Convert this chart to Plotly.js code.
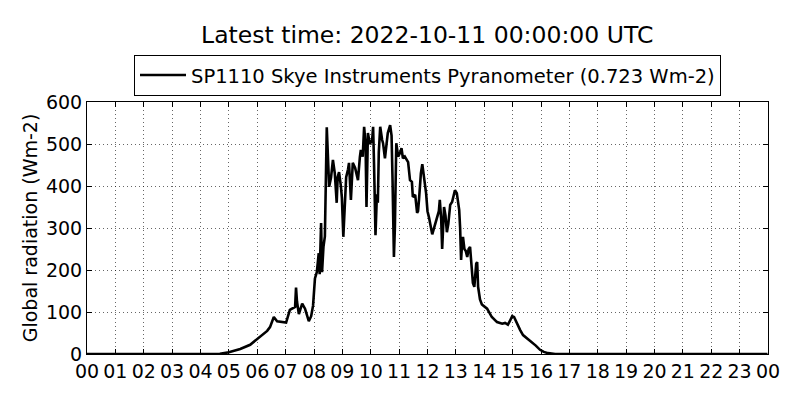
<!DOCTYPE html>
<html>
<head>
<meta charset="utf-8">
<script src="https://cdn.plot.ly/plotly-3.0.1.min.js"></script>
<style>
  html, body { margin: 0; padding: 0; background: #fff; }
  #chart { width: 800px; height: 400px; }
</style>
</head>
<body>
<div id="chart"></div>
<script>
// radiation readings for 2022-10-10, times as HH:MM, values in Wm-2
const times = [
  "00:00", "04:30", "04:41", "05:00", "05:24", "05:45", "06:06", "06:21", "06:27", "06:35",
  "06:42", "06:54", "07:01", "07:09", "07:20", "07:22", "07:24", "07:28", "07:35", "07:41",
  "07:49", "07:54", "07:58", "08:02", "08:06", "08:10", "08:12", "08:15", "08:17", "08:20",
  "08:23", "08:27", "08:30", "08:32", "08:36", "08:40", "08:44", "08:48", "08:50", "08:53",
  "08:57", "08:59", "09:02", "09:06", "09:08", "09:12", "09:14", "09:18", "09:22", "09:27",
  "09:31", "09:33", "09:37", "09:39", "09:43", "09:46", "09:49", "09:51", "09:54", "09:58",
  "10:03", "10:05", "10:07", "10:10", "10:13", "10:15", "10:17", "10:20", "10:24", "10:26",
  "10:30", "10:33", "10:36", "10:41", "10:44", "10:46", "10:49", "10:51", "10:54", "10:58",
  "11:02", "11:05", "11:08", "11:12", "11:19", "11:23", "11:27", "11:29", "11:34", "11:38",
  "11:40", "11:42", "11:46", "11:49", "11:53", "11:57", "12:00", "12:03", "12:10", "12:14",
  "12:20", "12:24", "12:26", "12:29", "12:31", "12:33", "12:35", "12:38", "12:41", "12:44",
  "12:48", "12:52", "12:54", "12:58", "13:02", "13:07", "13:09", "13:11", "13:13", "13:15",
  "13:18", "13:21", "13:24", "13:27", "13:30", "13:32", "13:34", "13:36", "13:39", "13:43",
  "13:45", "13:47", "13:51", "13:55", "14:06", "14:16", "14:27", "14:38", "14:44", "14:50",
  "14:54", "14:59", "15:03", "15:09", "15:16", "15:22", "15:30", "15:41", "15:49", "15:58",
  "16:06", "16:15", "16:30", "23:59"
];
const radiation = [
  0, 0, 0.5, 4, 12, 22, 40, 55, 64, 88,
  78, 76, 75, 105, 112, 158, 125, 95, 120, 108,
  78, 90, 115, 180, 195, 240, 190, 312, 195, 255,
  280, 540, 470, 398, 420, 462, 430, 360, 421, 433,
  398, 371, 279, 380, 421, 440, 455, 367, 455, 443,
  421, 414, 469, 486, 470, 541, 500, 350, 526, 500,
  510, 541, 450, 283, 380, 360, 480, 541, 510, 502,
  466, 500, 526, 545, 520, 420, 231, 300, 502, 470,
  479, 490, 466, 470, 457, 414, 410, 374, 379, 336,
  340, 367, 430, 452, 420, 383, 340, 326, 285, 300,
  326, 340, 367, 320, 250, 300, 350, 330, 290, 310,
  355, 362, 374, 390, 383, 343, 300, 224, 260, 279,
  250, 245, 231, 250, 255, 230, 200, 169, 160, 215,
  219, 160, 130, 118, 108, 88, 76, 72, 74, 70,
  78, 90, 88, 72, 57, 45, 38, 29, 20, 10,
  5, 2, 0, 0
];
const day = "2022-10-10";
const seriesName = "SP1110 Skye Instruments Pyranometer (0.723 Wm-2)";
const chartTitle = "Latest time: 2022-10-11 00:00:00 UTC";

const font = "DejaVu Sans, sans-serif";

const data = [{
    x: times.map(t => `${day} ${t}`),
    y: radiation,
    type: "scatter",
    mode: "lines",
    name: seriesName,
    line: {color: "#000", width: 2.6}
}];

const axisCommon = {
    showline: true,
    linecolor: "#000",
    linewidth: 1,
    mirror: "allticks",
    ticks: "inside",
    ticklen: 5,
    tickcolor: "#000",
    showgrid: true,
    gridcolor: "#000",
    gridwidth: 0.6,
    griddash: "1px,3px",
    zeroline: false,
    tickfont: {family: font, size: 19, color: "#000"}
};

const layout = {
    width: 800,
    height: 400,
    paper_bgcolor: "#fff",
    plot_bgcolor: "#fff",
    font: {family: font, color: "#000"},
    margin: {l: 87, r: 32, t: 102, b: 46, pad: 0},
    title: {
        text: chartTitle,
        font: {family: font, size: 23.5, color: "#000"},
        x: 0.534, xanchor: "center",
        y: 0.913, yanchor: "middle"
    },
    showlegend: true,
    legend: {
        x: 0.5, xanchor: "center",
        y: 1.187, yanchor: "top",
        orientation: "h",
        bordercolor: "#000",
        borderwidth: 1,
        bgcolor: "#fff",
        itemwidth: 46,
        font: {family: font, size: 19.5, color: "#000"}
    },
    xaxis: Object.assign({}, axisCommon, {
        type: "date",
        range: [`${day} 00:00`, "2022-10-11 00:00"],
        dtick: 3600000,
        tick0: `${day} 00:00`,
        tickformat: "%H"
    }),
    yaxis: Object.assign({}, axisCommon, {
        range: [0, 600],
        dtick: 100,
        title: {text: "Global radiation (Wm-2)", font: {family: font, size: 19, color: "#000"}, standoff: 3}
    })
};

Plotly.newPlot("chart", data, layout, {staticPlot: true, displayModeBar: false});
</script>
</body>
</html>
